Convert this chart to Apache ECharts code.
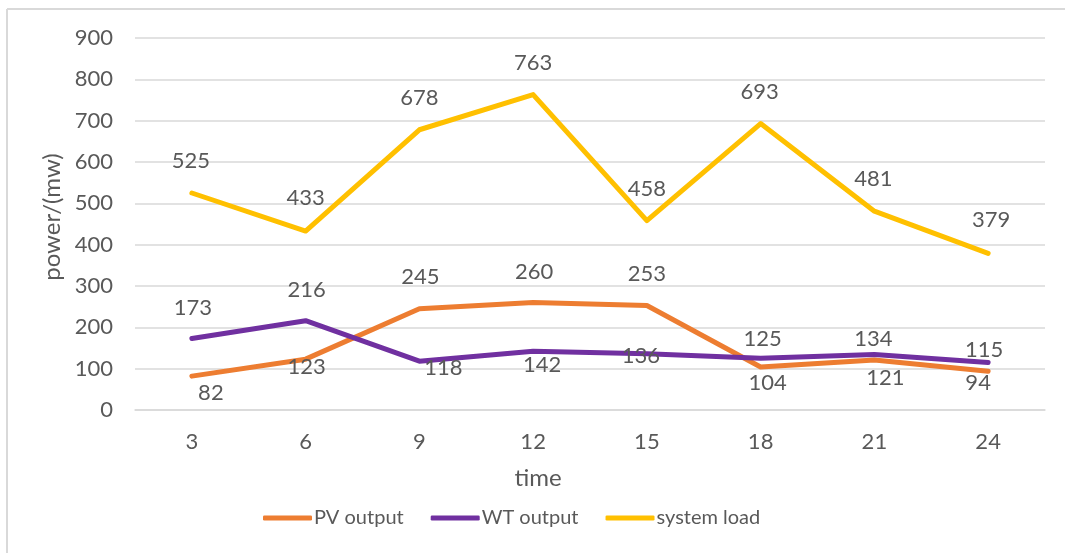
<!DOCTYPE html>
<html>
<head>
<meta charset="utf-8">
<script src="https://cdn.jsdelivr.net/npm/echarts@6/dist/echarts.min.js"></script>
<style>
html,body{margin:0;padding:0;background:#fff;}
#main{width:1065px;height:553px;}
</style>
</head>
<body>
<div id="main"></div>
<script>
var categories = ['3', '6', '9', '12', '15', '18', '21', '24'];
var pvOutput = [82, 123, 245, 260, 253, 104, 121, 94];
var wtOutput = [173, 216, 118, 142, 136, 125, 134, 115];
var systemLoad = [525, 433, 678, 763, 458, 693, 481, 379];
var yTicks = [0, 100, 200, 300, 400, 500, 600, 700, 800, 900];

// label placement offsets (dx, dy) relative to each point
var pvLabelOffsets = [[19,17],[1,8],[1,-32],[1,-31],[0,-32],[7,16],[11,18],[-10,12]];
var wtLabelOffsets = [[1,-31],[1,-31],[24,7],[9,14],[-6,2],[2,-19],[-1,-16],[-4,-13]];
var loadLabelOffsets = [[-1,-32],[0,-33],[0,-32],[0,-32],[0,-32],[-1,-32],[-1,-32],[3,-33]];

var FONT = 'Lato';
var TXT = '#595959';

function build(values, offsets) {
  return values.map(function (v, i) {
    return {
      value: v,
      label: { position: 'inside', offset: offsets[i] }
    };
  });
}

function lineSeries(name, values, offsets, color) {
  return {
    name: name,
    type: 'line',
    data: build(values, offsets),
    symbol: 'circle',
    symbolSize: 0.1,
    showSymbol: true,
    itemStyle: { color: color },
    lineStyle: { color: color, width: 5, cap: 'round', join: 'round' },
    label: {
      show: true,
      color: TXT,
      fontFamily: FONT,
      fontSize: 22
    },
    emphasis: { disabled: true },
    animation: false
  };
}

var chart = echarts.init(document.getElementById('main'));
chart.setOption({
  backgroundColor: '#ffffff',
  animation: false,
  textStyle: { fontFamily: FONT },
  graphic: [
    { type: 'line', shape: { x1: 7, y1: 9, x2: 1065, y2: 9 }, style: { stroke: '#D9D9D9', lineWidth: 2 } },
    { type: 'line', shape: { x1: 7, y1: 9, x2: 7, y2: 553 }, style: { stroke: '#D9D9D9', lineWidth: 2 } }
  ],
  grid: { left: 135, right: 20, top: 38, bottom: 143, containLabel: false },
  legend: {
    top: 503,
    left: 258,
    icon: 'roundRect',
    itemWidth: 49,
    itemHeight: 5,
    itemGap: 27,
    textStyle: { color: TXT, fontFamily: FONT, fontSize: 20, padding: [0, 0, 0, -3] },
    data: ['PV output', 'WT output', 'system load']
  },
  xAxis: {
    type: 'category',
    data: categories,
    boundaryGap: true,
    name: 'time',
    nameLocation: 'middle',
    nameGap: 56,
    nameMoveOverlap: false,
    nameTextStyle: { color: TXT, fontFamily: FONT, fontSize: 24, padding: [0, 104, 0, 0] },
    axisLine: { lineStyle: { color: '#D9D9D9', width: 1.5 } },
    axisTick: { show: false },
    axisLabel: { color: TXT, fontFamily: FONT, fontSize: 22, margin: 21 }
  },
  yAxis: {
    type: 'value',
    min: yTicks[0],
    max: yTicks[yTicks.length - 1],
    interval: yTicks[1] - yTicks[0],
    name: 'power/(mw)',
    nameLocation: 'middle',
    nameGap: 71,
    nameMoveOverlap: false,
    nameRotate: 90,
    nameTextStyle: { color: TXT, fontFamily: FONT, fontSize: 24, padding: [0, 0, 0, 14] },
    axisLine: { show: false },
    axisTick: { show: false },
    axisLabel: { color: TXT, fontFamily: FONT, fontSize: 22, margin: 22 },
    splitLine: { lineStyle: { color: '#D9D9D9', width: 1.5 } }
  },
  series: [
    lineSeries('PV output', pvOutput, pvLabelOffsets, '#ED7D31'),
    lineSeries('WT output', wtOutput, wtLabelOffsets, '#7030A0'),
    lineSeries('system load', systemLoad, loadLabelOffsets, '#FFC000')
  ]
});
</script>
</body>
</html>
